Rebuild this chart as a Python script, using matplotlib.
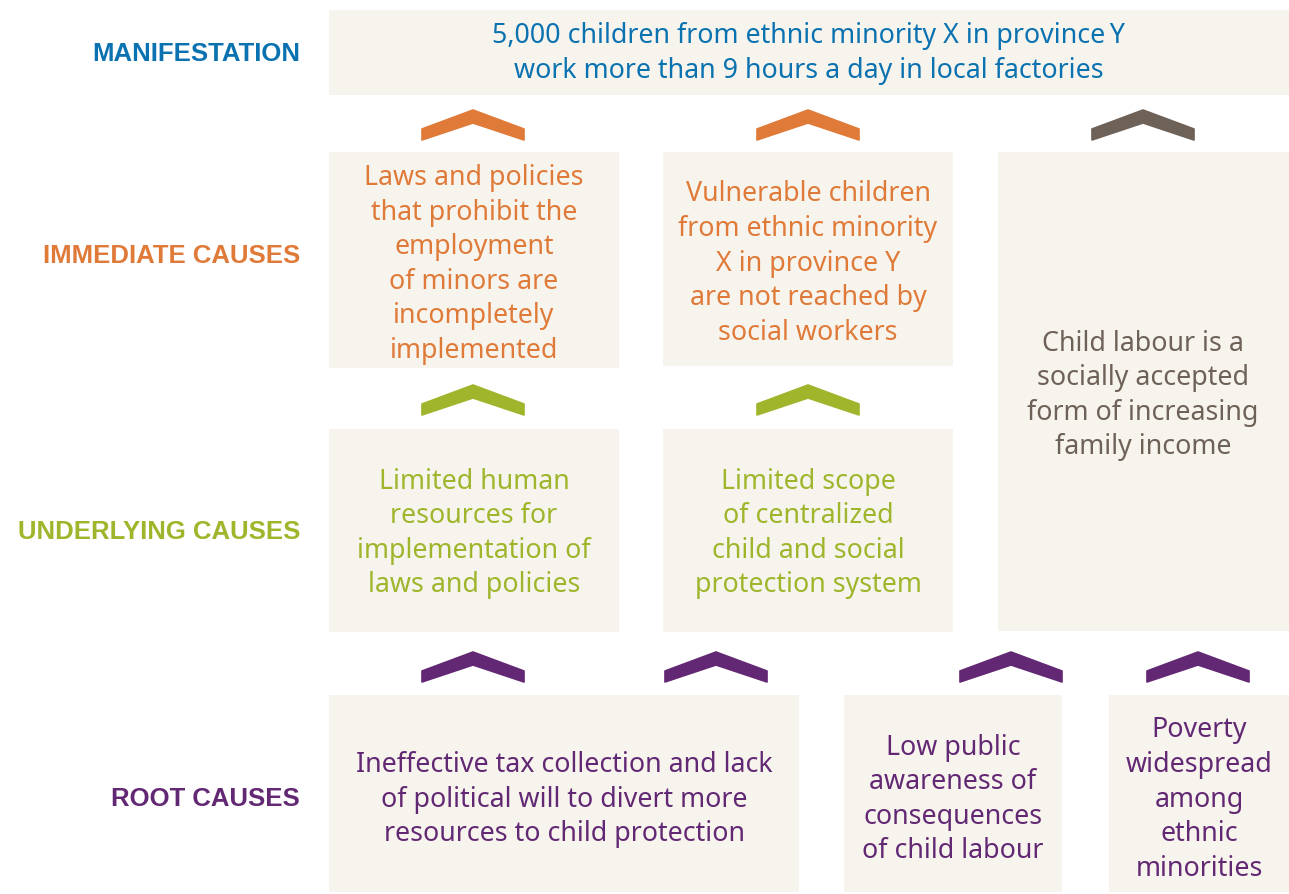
import matplotlib
matplotlib.use("Agg")
import matplotlib.pyplot as plt
from matplotlib.patches import Rectangle, Polygon

# ---- data ----
level_labels = ["MANIFESTATION", "IMMEDIATE CAUSES", "UNDERLYING CAUSES", "ROOT CAUSES"]
manifestation_text = "5,000 children from ethnic minority X in province\u2009Y\nwork more than 9 hours a day in local factories"
immediate_texts = [
    "Laws and policies\nthat prohibit the\nemployment\nof minors are\nincompletely\nimplemented",
    "Vulnerable children\nfrom ethnic minority\nX in province Y\nare not reached by\nsocial workers",
]
social_text = "Child labour is a\nsocially accepted\nform of increasing\nfamily income"
underlying_texts = [
    "Limited human\nresources for\nimplementation of\nlaws and policies",
    "Limited scope\nof centralized\nchild and social\nprotection system",
]
root_texts = [
    "Ineffective tax collection and lack\nof political will to divert more\nresources to child protection",
    "Low public\nawareness of\nconsequences\nof child labour",
    "Poverty\nwidespread\namong\nethnic\nminorities",
]

# ---- styles ----
BLUE = "#0A72B0"
ORANGE = "#E07A38"
GREEN = "#A0B52B"
PURPLE = "#632873"
BROWN = "#6E6158"
BOX = "#F7F4EE"
label_colors = [BLUE, ORANGE, GREEN, PURPLE]

W, H = 1289, 894
fig = plt.figure(figsize=(W / 100, H / 100), dpi=100)
ax = fig.add_axes([0, 0, 1, 1])
ax.set_xlim(0, W)
ax.set_ylim(H, 0)
ax.axis("off")

BODY_FONT = "Noto Sans"
BODY_SIZE = 19.3
LS = 1.31
DY = 2.5


def box(x0, y0, x1, y1):
    ax.add_patch(Rectangle((x0, y0), x1 - x0, y1 - y0, facecolor=BOX, edgecolor="none"))


def btext(x, y, s, color, ls=LS):
    ax.text(x, y + DY, s, ha="center", va="center", color=color, fontsize=BODY_SIZE,
            family=BODY_FONT, linespacing=ls, multialignment="center")


def chevron(cx, y0, color):
    pts = [(cx - 51, y0 + 19), (cx, y0), (cx + 51, y0 + 19),
           (cx + 51, y0 + 30), (cx, y0 + 13), (cx - 51, y0 + 30)]
    ax.add_patch(Polygon(pts, closed=True, facecolor=color, edgecolor=color,
                         linewidth=1.2, joinstyle="round"))


# boxes
box(329, 10, 1289, 95)
box(329, 152, 619, 368)
box(663, 152, 953, 366)
box(998, 152, 1289, 631)
box(329, 429, 619, 632)
box(663, 429, 953, 632)
box(329, 695, 799, 892)
box(844, 695, 1062, 892)
box(1109, 695, 1289, 892)

# left labels
label_y = [54, 256, 532, 799]
for lab, y, c in zip(level_labels, label_y, label_colors):
    ax.text(300, y, lab, ha="right", va="center", color=c, fontsize=18.5,
            family="Liberation Sans", fontweight="bold")

# texts
btext(809, 51, manifestation_text, BLUE, ls=1.36)
btext(474, 262, immediate_texts[0], ORANGE)
btext(808, 261, immediate_texts[1], ORANGE)
btext(1143, 393, social_text, BROWN)
btext(474, 531, underlying_texts[0], GREEN)
btext(808, 531, underlying_texts[1], GREEN)
btext(564, 797, root_texts[0], PURPLE)
btext(953, 797, root_texts[1], PURPLE)
btext(1199, 797, root_texts[2], PURPLE)

# chevrons
for cx in (473, 808):
    chevron(cx, 110, ORANGE)
chevron(1143, 110, BROWN)
for cx in (473, 808):
    chevron(cx, 385, GREEN)
for cx in (473, 716, 1011, 1198):
    chevron(cx, 652, PURPLE)

fig.savefig("out.png", dpi=100, facecolor="white")
